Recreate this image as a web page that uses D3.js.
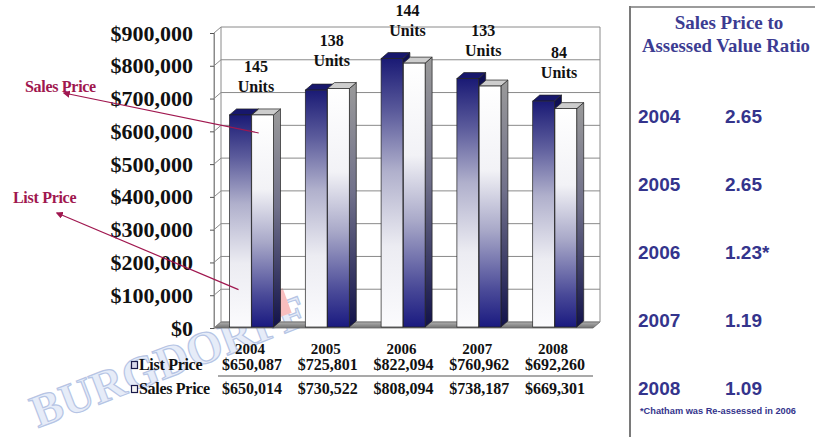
<!DOCTYPE html>
<html><head><meta charset="utf-8">
<script src="https://cdn.jsdelivr.net/npm/d3@7"></script>
<style>html,body{margin:0;padding:0;background:#fff;}svg{display:block;}</style>
</head><body>
<svg id="chart" width="815" height="437"></svg>
<script>
const years = ["2004","2005","2006","2007","2008"];
const listPrice = [650087,725801,822094,760962,692260];
const salesPrice = [650014,730522,808094,738187,669301];
const units = [145,138,144,133,84];
const yTicks = [0,100000,200000,300000,400000,500000,600000,700000,800000,900000];
const ratioYears = ["2004","2005","2006","2007","2008"];
const ratios = ["2.65","2.65","1.23*","1.19","1.09"];
const seriesNames = ["List Price","Sales Price"];
const panelTitle = ["Sales Price to","Assessed Value Ratio"];
const footnote = "*Chatham was Re-assessed in 2006";

const svg = d3.select("#chart");
const serif = "'Liberation Serif','Times New Roman',serif";
const sans = "'Liberation Sans',Arial,sans-serif";
const navyTxt = "#34348c";
const crimson = "#a0174f";

const defs = svg.append("defs");
function grad(id, stops){
  const g = defs.append("linearGradient").attr("id",id).attr("x1",0).attr("y1",0).attr("x2",0).attr("y2",1);
  stops.forEach(s=>g.append("stop").attr("offset",s[0]).attr("stop-color",s[1]));
}
grad("gList",[[0,"#1a1a75"],[0.2,"#5c5c9c"],[0.42,"#b0b0cc"],[0.7,"#ececf2"],[1,"#fbfbfd"]]);
grad("gSales",[[0,"#ffffff"],[0.35,"#f2f2f6"],[0.6,"#a8a8c8"],[0.85,"#4a4a98"],[1,"#1a1a80"]]);
grad("gSalesSide",[[0,"#9a9a9a"],[0.45,"#70708a"],[1,"#12124a"]]);
grad("gListSide",[[0,"#0e0e52"],[1,"#3a3a70"]]);
grad("gFloor",[[0,"#b0b0b0"],[1,"#707070"]]);
const mk = defs.append("marker").attr("id","arr").attr("viewBox","0 0 10 10").attr("refX",8).attr("refY",5)
  .attr("markerWidth",6).attr("markerHeight",6).attr("orient","auto-start-reverse");
mk.append("path").attr("d","M0,0 L10,5 L0,10 z").attr("fill",crimson);

// watermark (decorative)
const wm = svg.append("g").attr("opacity",0.45);
wm.append("text").attr("transform","translate(38,428) rotate(-21)")
  .attr("font-family",serif).attr("font-size",46).attr("font-weight","bold")
  .attr("fill","#c9d6f1").attr("stroke","#5f7fc6").attr("stroke-width",1.2).text("BURGDORFF");
wm.append("rect").attr("x",262).attr("y",292).attr("width",26).attr("height",26)
  .attr("transform","rotate(-20 275 305)").attr("fill","#f07070");

// scales
const x = d3.scaleBand().domain(years).range([214,593]);
const y = d3.scaleLinear().domain([0,900000]).range([328,33]);
const dx = 7, dy = -6;
const inner = d3.scaleBand().domain(seriesNames).range([15.5,59.5]).paddingInner(0.02);

const plot = svg.append("g");
const [x0,x1] = x.range();
plot.append("path").attr("d",`M${x0},${y(0)} L${x1},${y(0)} L${x1+dx},${y(0)+dy} L${x0+dx},${y(0)+dy} Z`)
  .attr("fill","url(#gFloor)").attr("stroke","#666").attr("stroke-width",0.8);
plot.selectAll(".bg").data(yTicks).join("line")
  .attr("x1",x0+dx).attr("x2",x1+dx).attr("y1",d=>y(d)+dy).attr("y2",d=>y(d)+dy)
  .attr("stroke","#8a8a8a").attr("stroke-width",1);
plot.selectAll(".sg").data(yTicks).join("line")
  .attr("x1",x0).attr("x2",x0+dx).attr("y1",d=>y(d)).attr("y2",d=>y(d)+dy)
  .attr("stroke","#8a8a8a").attr("stroke-width",1);
[[x0+dx,y(0)+dy,y(900000)+dy],[x1+dx,y(0)+dy,y(900000)+dy],[x0,y(0),y(900000)]].forEach(v=>{
  plot.append("line").attr("x1",v[0]).attr("x2",v[0]).attr("y1",v[1]).attr("y2",v[2])
    .attr("stroke","#8a8a8a").attr("stroke-width",1);
});
const axis = d3.axisLeft(y).tickValues(yTicks).tickSize(4).tickFormat(d=>"$"+d3.format(",")(d));
const ag = svg.append("g").attr("transform",`translate(${x0},0)`).call(axis);
ag.select(".domain").attr("stroke","#8a8a8a");
ag.selectAll(".tick line").attr("stroke","#555");
ag.selectAll(".tick text").attr("x",-21).attr("font-family",serif).attr("font-size",22)
  .attr("font-weight","bold").attr("fill","#111");

function bar(g, bx, w, v, front, top, side){
  const yt = y(v), yb = y(0)-1;
  g.append("path").attr("d",`M${bx+w},${yt} L${bx+w+dx},${yt+dy} L${bx+w+dx},${yb+dy} L${bx+w},${yb} Z`)
    .attr("fill",side).attr("stroke","#222").attr("stroke-width",0.7);
  g.append("path").attr("d",`M${bx},${yt} L${bx+w},${yt} L${bx+w+dx},${yt+dy} L${bx+dx},${yt+dy} Z`)
    .attr("fill",top).attr("stroke","#222").attr("stroke-width",0.7);
  g.append("rect").attr("x",bx).attr("y",yt).attr("width",w).attr("height",yb-yt)
    .attr("fill",front).attr("stroke","#222").attr("stroke-width",0.7);
}
years.forEach((yr,i)=>{
  const g = plot.append("g");
  const bx = x(yr);
  bar(g, bx+inner("List Price"), inner.bandwidth(), listPrice[i], "url(#gList)", "#17176c", "url(#gListSide)");
  bar(g, bx+inner("Sales Price"), inner.bandwidth(), salesPrice[i], "url(#gSales)", "#cdcdcd", "url(#gSalesSide)");
});

years.forEach((yr,i)=>{
  const cx = x(yr)+x.bandwidth()/2+4;
  const base = y(Math.max(listPrice[i],salesPrice[i])) - 23;
  const t = svg.append("text").attr("text-anchor","middle").attr("font-family",serif)
    .attr("font-size",16).attr("font-weight","bold").attr("fill","#111");
  t.append("tspan").attr("x",cx).attr("y",base-20).text(units[i]);
  t.append("tspan").attr("x",cx).attr("y",base).text("Units");
});

const tbl = svg.append("g").attr("font-family",serif).attr("font-weight","bold").attr("fill","#111");
years.forEach((yr,i)=>{
  const cx = x(yr)+x.bandwidth()/2;
  tbl.append("text").attr("x",cx-2).attr("y",354).attr("text-anchor","middle").attr("font-size",15).text(yr);
  tbl.append("text").attr("x",cx).attr("y",370).attr("text-anchor","middle").attr("font-size",16).text("$"+d3.format(",")(listPrice[i]));
  tbl.append("text").attr("x",cx).attr("y",394).attr("text-anchor","middle").attr("font-size",16).text("$"+d3.format(",")(salesPrice[i]));
});
svg.append("line").attr("x1",218).attr("x2",593).attr("y1",376).attr("y2",376).attr("stroke","#555").attr("stroke-width",1.2);
[[365,"List Price","#d8d8ea"],[389,"Sales Price","#f4f4f4"]].forEach(r=>{
  svg.append("rect").attr("x",131.5).attr("y",r[0]-3.5).attr("width",6).attr("height",7)
    .attr("fill",r[2]).attr("stroke","#1a1a4a").attr("stroke-width",1.2);
  tbl.append("text").attr("x",139).attr("y",r[0]+5).attr("font-size",16).attr("letter-spacing",-0.3).text(r[1]);
});

const ann = svg.append("g");
ann.append("text").attr("x",25).attr("y",92).attr("font-family",serif).attr("font-size",16)
  .attr("font-weight","bold").attr("fill",crimson).attr("letter-spacing",-0.3).text("Sales Price");
ann.append("text").attr("x",13).attr("y",203).attr("font-family",serif).attr("font-size",16)
  .attr("font-weight","bold").attr("fill",crimson).attr("letter-spacing",-0.3).text("List Price");
const sx = x("2004")+inner("Sales Price")+7, lx = x("2004")+inner("List Price")+9;
ann.append("line").attr("x1",sx).attr("y1",y(595000)).attr("x2",64).attr("y2",93)
  .attr("stroke",crimson).attr("stroke-width",1.2).attr("marker-end","url(#arr)");
ann.append("line").attr("x1",lx).attr("y1",y(117000)).attr("x2",57).attr("y2",213)
  .attr("stroke",crimson).attr("stroke-width",1.2).attr("marker-end","url(#arr)");

const rp = svg.append("g");
rp.append("line").attr("x1",630).attr("x2",630).attr("y1",6).attr("y2",437).attr("stroke","#7a7a7a").attr("stroke-width",2);
rp.append("line").attr("x1",630).attr("x2",815).attr("y1",7).attr("y2",7).attr("stroke","#7a7a7a").attr("stroke-width",1.5);
rp.append("text").attr("x",729).attr("y",29).attr("text-anchor","middle").attr("font-family",serif)
  .attr("font-size",19).attr("font-weight","bold").attr("fill","#3c3c92").text(panelTitle[0]);
rp.append("text").attr("x",642).attr("y",52).attr("font-family",serif)
  .attr("font-size",18.8).attr("font-weight","bold").attr("fill","#3c3c92").text(panelTitle[1]);
const ry = d3.scalePoint().domain(ratioYears).range([116,388]);
ratioYears.forEach((yr,i)=>{
  rp.append("text").attr("x",638).attr("y",ry(yr)+7).attr("font-family",sans).attr("font-size",19)
    .attr("font-weight","bold").attr("fill",navyTxt).text(yr);
  rp.append("text").attr("x",725).attr("y",ry(yr)+7).attr("font-family",sans).attr("font-size",19)
    .attr("font-weight","bold").attr("fill",navyTxt).text(ratios[i]);
});
rp.append("text").attr("x",640).attr("y",414).attr("font-family",sans).attr("font-size",9)
  .attr("font-weight","bold").attr("fill",navyTxt).attr("textLength",156).attr("lengthAdjust","spacingAndGlyphs").text(footnote);
</script>
</body></html>
